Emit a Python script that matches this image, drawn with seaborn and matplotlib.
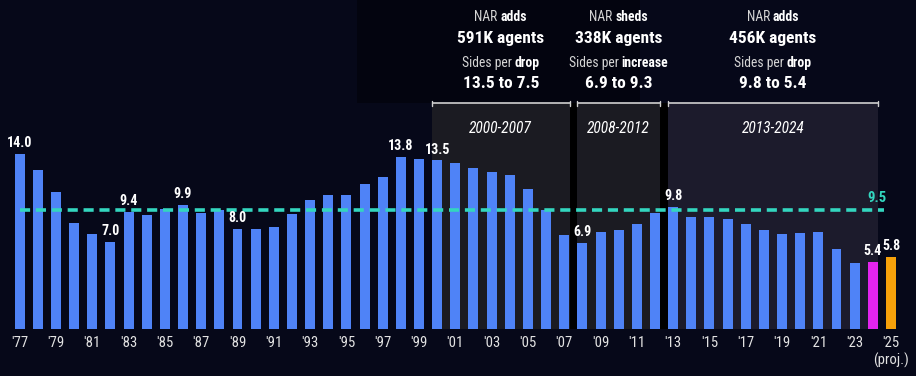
import matplotlib
matplotlib.use("Agg")
import matplotlib.pyplot as plt
import seaborn as sns
import pandas as pd
from matplotlib import font_manager
from matplotlib.offsetbox import TextArea, HPacker, AnnotationBbox
from matplotlib.patches import Rectangle

# ---------------- data ----------------
years = list(range(1977, 2026))
sides = [14.0, 12.7, 11.0, 8.5, 7.6, 7.0, 9.4, 9.1, 9.6, 9.9,
         9.3, 9.5, 8.0, 8.0, 8.2, 9.2, 10.3, 10.7, 10.7, 11.6,
         12.2, 13.8, 13.6, 13.5, 13.3, 12.9, 12.6, 12.3, 11.2, 9.5,
         7.5, 6.9, 7.8, 7.9, 8.4, 9.3, 9.8, 9.0, 9.0, 8.8,
         8.4, 7.9, 7.6, 7.7, 7.8, 6.4, 5.3, 5.4, 5.8]
labeled_years = [1977, 1982, 1983, 1986, 1989, 1998, 2000, 2008, 2013, 2024, 2025]
average = 9.5

periods = ["2000-2007", "2008-2012", "2013-2024"]
period_start = [2000, 2008, 2013]
period_end = [2007, 2012, 2024]
period_verb = ["adds", "sheds", "adds"]
period_agents = ["591K agents", "338K agents", "456K agents"]
period_dir = ["drop", "increase", "drop"]
period_range = ["13.5 to 7.5", "6.9 to 9.3", "9.8 to 5.4"]

tick_years = years[::2]
tick_labels = ["'%02d" % (y % 100) for y in tick_years]

# ---------------- style ----------------
BG = "#060819"
BLUE = "#4f83f7"
MAGENTA = "#e424ee"
ORANGE = "#f6a10a"
TEAL = "#33d6bf"

sns.set_theme(style="dark")
available = {f.name for f in font_manager.fontManager.ttflist}
narrow = None
for cand in ["Liberation Sans Narrow", "Roboto Condensed", "DejaVu Sans Condensed",
             "Open Sans Condensed"]:
    if cand in available:
        narrow = cand
        break
FAM = [narrow, "Roboto", "DejaVu Sans"] if narrow else ["Roboto", "DejaVu Sans"]
S = 1.12 if narrow else 1.0
plt.rcParams["font.family"] = FAM

fig = plt.figure(figsize=(9.16, 3.76), dpi=100, facecolor=BG)
ax = fig.add_axes([0, 0, 1, 1])
ax.set_facecolor(BG)

df = pd.DataFrame({"year": [str(y) for y in years], "sides": sides})
colors = {str(y): BLUE for y in years}
colors["2024"] = MAGENTA
colors["2025"] = ORANGE
sns.barplot(data=df, x="year", y="sides", hue="year", palette=colors,
            legend=False, width=0.55, saturation=1, ax=ax, zorder=3,
            linewidth=0, edgecolor="none")

ax.set_xlim(-1.085, 49.38)
ax.set_ylim(-3.76, 26.32)

idx = {y: i for i, y in enumerate(years)}

# slightly darker backdrop behind the first two headers
ax.add_patch(Rectangle((18.6, 18.08), 34.2 - 18.6, 30, facecolor="#03040f",
                       edgecolor="none", zorder=0.5))


def pair(light, bold, size):
    a = TextArea(light, textprops=dict(color="#d6d6d6", fontsize=size, family=FAM))
    b = TextArea(bold, textprops=dict(color="white", fontsize=size,
                                      fontweight="bold", family=FAM))
    return HPacker(children=[a, b], align="baseline", pad=0, sep=0)


top_y = 18.08
for k in range(len(periods)):
    x0 = idx[period_start[k]] - 0.3
    x1 = idx[period_end[k]] + 0.3
    col = "#1b1b22" if k < 2 else "#1c1b2c"
    ax.add_patch(Rectangle((x0, 0), x1 - x0, top_y, facecolor=col,
                           edgecolor="none", zorder=1))
    if k < len(periods) - 1:
        nx0 = idx[period_start[k + 1]] - 0.3
        ax.add_patch(Rectangle((x1, 0), nx0 - x1, top_y, facecolor="#000000",
                               edgecolor="none", zorder=1))
    ax.plot([x0, x1], [top_y, top_y], color="#d0d0d0", lw=1.2, zorder=4,
            solid_capstyle="butt")
    for xx in (x0, x1):
        ax.plot([xx, xx], [top_y - 0.2, top_y + 0.2], color="#d0d0d0",
                lw=1.0, zorder=4)
    cx = (x0 + x1) / 2
    ax.text(cx, 16.08, periods[k], ha="center", va="center", color="white",
            fontsize=10 * S, style="italic", zorder=5)

    ab = AnnotationBbox(pair("NAR ", period_verb[k], 8.8 * S), (cx, 24.96),
                        frameon=False, box_alignment=(0.5, 0.5), zorder=5)
    ax.add_artist(ab)
    ax.text(cx, 23.28, period_agents[k], ha="center", va="center",
            color="white", fontsize=11.2 * S, fontweight="bold", zorder=5)
    ab = AnnotationBbox(pair("Sides per ", period_dir[k], 8.8 * S), (cx, 21.28),
                        frameon=False, box_alignment=(0.5, 0.5), zorder=5)
    ax.add_artist(ab)
    ax.text(cx, 19.6, period_range[k], ha="center", va="center",
            color="white", fontsize=11.2 * S, fontweight="bold", zorder=5)

# average dashed line
ax.plot([0, idx[2024] + 0.6], [average, average], color=TEAL, lw=2.6,
        ls=(0, (2.8, 1.6)), zorder=4)
ax.text(idx[2024] + 0.25, average + 0.45, "%.1f" % average, color=TEAL,
        fontsize=9.5 * S, fontweight="bold", ha="center", va="bottom", zorder=5)

# value labels
for y in labeled_years:
    v = sides[idx[y]]
    ax.text(idx[y], v + 0.3, "%.1f" % v, ha="center", va="bottom",
            color="white", fontsize=9 * S, fontweight="bold", zorder=5)

# x tick labels
for y, lab in zip(tick_years, tick_labels):
    ax.text(idx[y], -1.1, lab, ha="center", va="center", color="#e2e2e2",
            fontsize=9.5 * S, zorder=5)
ax.text(idx[2025], -2.5, "(proj.)", ha="center", va="center",
        color="#e2e2e2", fontsize=9.5 * S, zorder=5)

ax.set_xticks([])
ax.set_yticks([])
ax.set_xlabel("")
ax.set_ylabel("")
for s in ax.spines.values():
    s.set_visible(False)

fig.savefig("out.png", dpi=100, facecolor=BG)
